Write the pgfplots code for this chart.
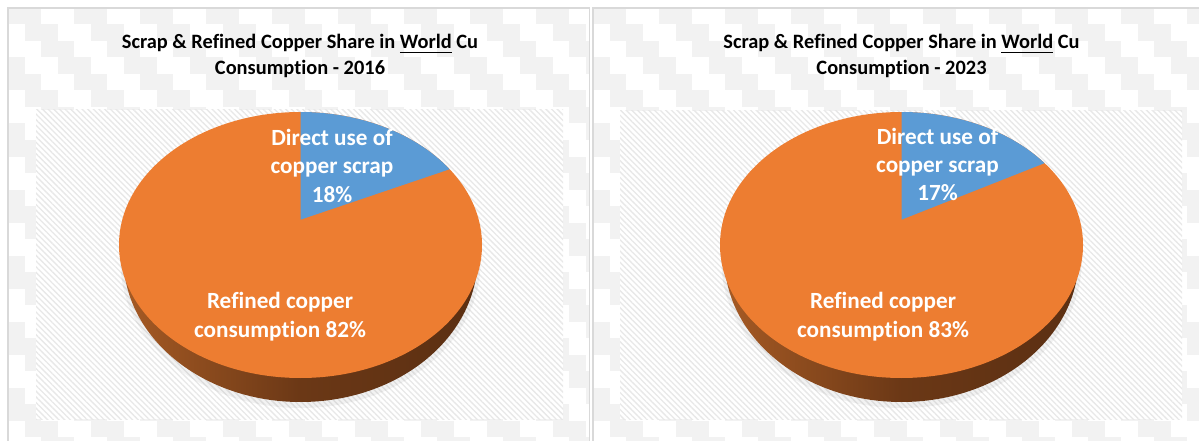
\documentclass[border=0pt]{standalone}
\usepackage{pgfplots}
\pgfplotsset{compat=1.18}
\usepackage{pgfplotstable}
\usetikzlibrary{patterns.meta}
\usepackage{fontspec}
\setmainfont{Carlito}[Ligatures=NoCommon]

\definecolor{pieOrange}{HTML}{ED7D31}
\definecolor{pieBlue}{HTML}{5B9BD5}
\definecolor{sideL}{HTML}{A65A24}
\definecolor{sideM}{HTML}{6B3816}
\definecolor{sideR}{HTML}{5B2F12}
\definecolor{cell}{HTML}{F2F2F2}
\definecolor{frame}{HTML}{D9D9D9}
\definecolor{hatch}{HTML}{E8E8E8}

\pgfplotstableread{
part share
scrap 18
refined 82
}\dataA
\pgfplotstableread{
part share
scrap 17
refined 83
}\dataB

\newcommand\titlefont{\fontsize{15.3}{19}\selectfont\bfseries}
\newcommand\labelfont{\fontsize{17.4}{21}\selectfont\bfseries}
\newcommand\ul[1]{\setbox0\hbox{#1}\rlap{\rule[-3pt]{\wd0}{1pt}}\box0\relax}
\def\pb{0.0959}

\begin{document}
\begin{tikzpicture}[x=0.75pt,y=0.75pt]
\useasboundingbox (0,0) rectangle (1199,440);
\pgfplotstablegetelem{0}{share}\of\dataA \let\sA\pgfplotsretval
\pgfplotstablegetelem{1}{share}\of\dataA \let\rA\pgfplotsretval
\pgfplotstablegetelem{0}{share}\of\dataB \let\sB\pgfplotsretval
\pgfplotstablegetelem{1}{share}\of\dataB \let\rB\pgfplotsretval
\pgfmathsetmacro\thA{90-3.6*\sA}
\pgfmathsetmacro\tA{atan2(sin(\thA)+\pb,cos(\thA))+atan2(\pb*cos(\thA),1+\pb*sin(\thA))}
\pgfmathsetmacro\thB{90-3.6*\sB}
\pgfmathsetmacro\tB{atan2(sin(\thB)+\pb,cos(\thB))+atan2(\pb*cos(\thB),1+\pb*sin(\thB))}

% panels with stepped background
\foreach \xa/\xb in {8/589.5, 593/1215} {
  \begin{scope}
    \clip (\xa,-5) rectangle (\xb,432);
    \fill[white] (\xa,-5) rectangle (\xb,432);
    \foreach \r in {0,...,26} {
      \foreach \k in {-7,...,10} {
        \fill[cell] ({\xa+16.5*\r+66*\k},{432-16.5*\r}) rectangle ++(33,-16.5);
      }
    }
  \end{scope}
  \draw[frame, line width=1.2pt] (\xa,-5) -- (\xa,432) -- (\xb,432) -- (\xb,-5);
}
% hatched plot areas
\fill[white] (36,21) rectangle (563,330);
\fill[pattern={Lines[angle=-45,distance=3pt,line width=1pt]}, pattern color=hatch] (36,21) rectangle (563,330);
\fill[white] (620,21) rectangle (1182,329);
\fill[pattern={Lines[angle=-45,distance=3pt,line width=1pt]}, pattern color=hatch] (620,21) rectangle (1182,329);

% ---- 2016 ----
\begin{axis}[at={(0,0)},anchor=south west,width=899.25pt,height=330pt,scale only axis,
  xmin=0,xmax=1199,ymin=0,ymax=440,hide axis,clip=false]
  \fill[black,opacity=0.05] (300.5,178) ellipse[x radius=180, y radius=146];
  \shade[left color=sideL, right color=sideR, middle color=sideM] (300.5,182) ellipse[x radius=177, y radius=144];
  \fill[pieOrange] (300.5,195) ellipse[x radius=181.5, y radius=133];
  \fill[pieBlue] (300.5,220.3) -- (300.5,328) arc[start angle=90, end angle=\tA, x radius=181.5, y radius=133] -- cycle;
  \node[anchor=base,font=\titlefont] at (300,391) {Scrap \& Refined Copper Share in \ul{World} Cu};
  \node[anchor=base,font=\titlefont] at (300,365) {Consumption - 2016};
  \node[anchor=base,text=white,font=\labelfont] at (332,294) {Direct use of};
  \node[anchor=base,text=white,font=\labelfont] at (332,266) {copper scrap};
  \node[anchor=base,text=white,font=\labelfont] at (332,238) {\sA\%};
  \node[anchor=base,text=white,font=\labelfont] at (280,132) {Refined copper};
  \node[anchor=base,text=white,font=\labelfont] at (280,103) {consumption \rA\%};
\end{axis}

% ---- 2023 ----
\begin{axis}[at={(0,0)},anchor=south west,width=899.25pt,height=330pt,scale only axis,
  xmin=0,xmax=1199,ymin=0,ymax=440,hide axis,clip=false]
  \fill[black,opacity=0.05] (901.5,178) ellipse[x radius=180, y radius=146];
  \shade[left color=sideL, right color=sideR, middle color=sideM] (901.5,182) ellipse[x radius=177, y radius=144];
  \fill[pieOrange] (901.5,195) ellipse[x radius=181.5, y radius=133];
  \fill[pieBlue] (901.5,220.3) -- (901.5,328) arc[start angle=90, end angle=\tB, x radius=181.5, y radius=133] -- cycle;
  \node[anchor=base,font=\titlefont] at (901.5,391) {Scrap \& Refined Copper Share in \ul{World} Cu};
  \node[anchor=base,font=\titlefont] at (901.5,365) {Consumption - 2023};
  \node[anchor=base,text=white,font=\labelfont] at (937.5,295) {Direct use of};
  \node[anchor=base,text=white,font=\labelfont] at (937.5,267) {copper scrap};
  \node[anchor=base,text=white,font=\labelfont] at (937.5,239) {\sB\%};
  \node[anchor=base,text=white,font=\labelfont] at (883,132) {Refined copper};
  \node[anchor=base,text=white,font=\labelfont] at (883,103) {consumption \rB\%};
\end{axis}
\end{tikzpicture}
\end{document}
